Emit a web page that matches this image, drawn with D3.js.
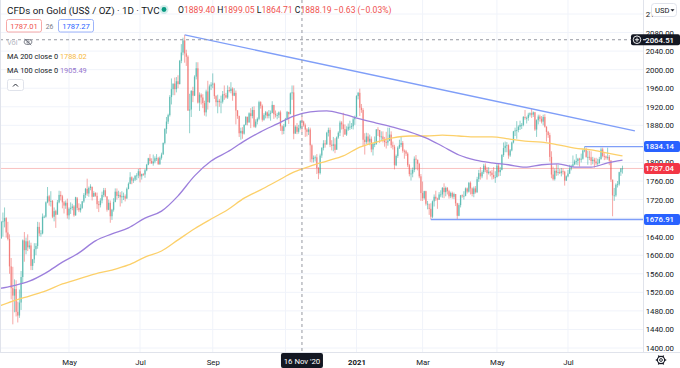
<!DOCTYPE html>
<html><head><meta charset="utf-8">
<script src="https://cdn.jsdelivr.net/npm/d3@7"></script>
<style>
html,body{margin:0;padding:0;background:#fff;}
svg{display:block;font-family:Roboto,"Liberation Sans",Arial,sans-serif;}
</style></head><body>
<svg id="c" width="680" height="368"></svg>
<script>
// ---------------- DATA ----------------
const startDate = "2020-03-02", endDate = "2021-08-17";
const holidays = ["2020-12-25", "2021-01-01"];
const firstOpen = 1585;
const closes = [
1587,1642,1636,1672,1673, 1680,1649,1635,1576,1529, 1513,1527,1478,1470,1498, 1553,1632,1611,1630,1617,
1621,1577,1591,1613,1620, 1661,1647,1647,1683,1683, 1714,1727,1716,1717,1683, 1695,1687,1714,1730,1727,
1714,1707,1713,1686,1700, 1702,1705,1686,1725,1702, 1697,1702,1716,1730,1743, 1733,1745,1748,1726,1734,
1728,1710,1708,1718,1730, 1740,1727,1698,1713,1684, 1698,1715,1737,1728,1730, 1725,1727,1727,1722,1743,
1754,1768,1761,1763,1771, 1772,1781,1770,1775,1774, 1783,1795,1809,1803,1798, 1802,1809,1809,1796,1810,
1817,1842,1872,1888,1902, 1941,1958,1970,1958,1975, 1969,2019,2037,2063,2035, 2028,1912,1914,1954,1944,
1985,2003,1929,1946,1940, 1928,1908,1953,1930,1964, 1968,1970,1943,1930,1933, 1930,1931,1947,1945,1940,
1956,1954,1959,1944,1950, 1912,1900,1863,1868,1862, 1881,1898,1886,1906,1900, 1913,1877,1888,1894,1930,
1922,1892,1902,1908,1900, 1905,1907,1924,1904,1902, 1902,1908,1878,1868,1878, 1894,1909,1904,1949,1951,
1862,1877,1866,1874,1889.40, 1888.19,1880,1871,1866,1871, 1837,1807,1810,1811,1788, 1777,1815,1831,1841,1839,
1864,1870,1838,1836,1839, 1827,1854,1864,1886,1882, 1872,1860,1871,1877, 1877,1878,1893,1898,
1943,1950,1918,1913,1849, 1844,1856,1845,1851,1828, 1840,1840,1871,1870,1855, 1856,1850,1844,1843,1847,
1860,1837,1834,1794,1814, 1832,1838,1842,1825,1824, 1819,1794,1775,1776,1784, 1808,1806,1797,1770,1734,
1723,1738,1711,1711,1700, 1683,1716,1726,1722,1720, 1731,1731,1745,1736,1745, 1738,1727,1734,1726,1732,
1712,1685,1708,1729,1728, 1728,1744,1737,1756,1744, 1732,1744,1736,1764,1777, 1770,1779,1793,1784,1777,
1780,1778,1773,1768,1768, 1793,1779,1784,1816,1831, 1836,1837,1815,1826,1843, 1867,1869,1870,1877,1881,
1881,1898,1896,1896,1903, 1906,1903,1908,1871,1891, 1899,1894,1888,1898,1877, 1866,1859,1812,1774,1764,
1782,1778,1779,1777,1781, 1780,1761,1770,1776,1787, 1792,1796,1802,1803,1808, 1806,1808,1826,1829,1812,
1812,1811,1803,1806,1802, 1798,1799,1807,1828,1814, 1813,1810,1812,1804,1763, 1729,1729,1752,1753,1779,
1787,1787.04];
const highs = [
1610,1649,1652,1674,1692, 1703,1682,1672,1645,1594, 1575,1548,1546,1500,1526, 1566,1634,1650,1638,1645,
1632,1627,1592,1626,1626, 1672,1671,1654,1690,1686, 1716,1747,1730,1738,1719, 1703,1698,1719,1739,1738,
1730,1717,1718,1722,1703, 1714,1711,1708,1726,1722, 1712,1710,1717,1734,1745, 1765,1748,1753,1747,1738,
1736,1735,1717,1723,1737, 1745,1745,1727,1720,1718, 1700,1723,1744,1744,1739, 1736,1738,1735,1731,1746,
1757,1779,1770,1767,1773, 1777,1786,1788,1776,1777, 1786,1797,1810,1818,1809, 1817,1813,1818,1812,1813,
1821,1843,1874,1898,1905, 1945,1981,1970,1983,1984, 1988,2021,2055,2069,2075, 2043,2031,1948,1956,1963,
1988,2016,2016,1951,1949, 1947,1933,1957,1976,1968, 1973,1992,1972,1945,1946, 1937,1944,1954,1966,1950,
1966,1963,1973,1962,1960, 1955,1913,1901,1875,1876, 1882,1900,1899,1908,1917, 1920,1921,1893,1897,1933,
1932,1925,1906,1911,1910, 1913,1912,1932,1924,1912, 1907,1910,1912,1880,1883, 1896,1911,1909,1951,1966,
1966,1880,1885,1881,1891, 1899.05,1890,1884,1874,1876, 1875,1839,1815,1815,1818, 1790,1819,1833,1848,1848,
1866,1875,1875,1848,1855, 1852,1856,1867,1890,1889, 1907,1882,1878,1884, 1890,1885,1897,1901,
1945,1952,1959,1926,1917, 1863,1864,1863,1860,1856, 1842,1856,1872,1876,1870, 1867,1867,1855,1866,1875,
1875,1867,1845,1838,1817, 1835,1849,1855,1846,1828, 1827,1822,1797,1785,1789, 1813,1816,1806,1799,1775,
1759,1739,1739,1717,1702, 1712,1718,1731,1739,1724, 1736,1740,1747,1755,1748, 1747,1741,1737,1737,1735,
1732,1713,1712,1730,1731, 1738,1746,1746,1758,1759, 1746,1748,1749,1769,1784, 1790,1783,1797,1798,1790,
1790,1782,1784,1790,1781, 1798,1798,1790,1818,1843, 1845,1844,1839,1829,1845, 1868,1875,1889,1880,1890,
1885,1900,1913,1899,1907, 1908,1916,1910,1909,1893, 1903,1903,1900,1903,1904, 1878,1868,1864,1824,1791,
1787,1796,1795,1786,1788, 1787,1782,1772,1784,1795, 1795,1815,1806,1818,1810, 1810,1819,1828,1834,1832,
1825,1825,1824,1812,1810, 1810,1808,1812,1832,1832, 1820,1815,1832,1816,1805, 1763,1745,1755,1760,1780,
1788,1793];
const lows = [
1565,1585,1632,1636,1640, 1660,1638,1632,1560,1505, 1451,1477,1468,1455,1465, 1482,1540,1586,1602,1609,
1613,1568,1568,1583,1600, 1614,1641,1640,1645,1680, 1681,1712,1707,1705,1680, 1673,1659,1688,1712,1718,
1701,1690,1700,1679,1677, 1689,1697,1683,1685,1697, 1693,1692,1700,1713,1723, 1728,1726,1740,1718,1726,
1726,1700,1693,1703,1712, 1725,1725,1694,1697,1670, 1676,1694,1714,1720,1723, 1705,1712,1719,1716,1722,
1742,1753,1753,1756,1760, 1762,1766,1757,1763,1771, 1767,1781,1794,1797,1797, 1793,1798,1803,1795,1795,
1806,1817,1839,1862,1883, 1899,1925,1945,1945,1951, 1960,1968,2014,2031,2015, 2008,1911,1863,1898,1930,
1943,1979,1927,1911,1925, 1917,1901,1899,1914,1928, 1956,1960,1937,1921,1906, 1920,1906,1927,1935,1938,
1937,1951,1949,1933,1943, 1882,1894,1855,1849,1851, 1860,1880,1880,1886,1874, 1895,1875,1874,1882,1891,
1916,1888,1890,1895,1895, 1895,1890,1906,1894,1897, 1893,1896,1868,1860,1861, 1876,1891,1883,1904,1935,
1850,1862,1861,1862,1871, 1864.71,1877,1855,1856,1859, 1801,1800,1800,1802,1775, 1764,1774,1810,1826,1832,
1838,1856,1833,1826,1824, 1820,1828,1851,1857,1871, 1855,1860,1857,1868, 1870,1872,1871,1881,
1898,1936,1900,1907,1835, 1817,1840,1838,1837,1822, 1815,1833,1838,1857,1842, 1846,1843,1834,1830,1836,
1846,1831,1828,1785,1792, 1810,1829,1833,1821,1808, 1814,1790,1770,1761,1768, 1779,1785,1783,1766,1717,
1717,1720,1707,1699,1687, 1676.91,1680,1705,1717,1700, 1719,1725,1724,1723,1727, 1731,1722,1723,1722,1721,
1706,1678,1684,1703,1724, 1720,1727,1733,1735,1731, 1727,1725,1733,1734,1758, 1763,1766,1775,1779,1763,
1774,1770,1763,1764,1756, 1768,1770,1771,1783,1812, 1822,1822,1808,1812,1824, 1841,1857,1851,1865,1870,
1872,1878,1892,1884,1890, 1899,1896,1898,1868,1855, 1882,1888,1884,1880,1875, 1845,1853,1802,1766,1761,
1761,1771,1772,1775,1770, 1774,1750,1760,1768,1775, 1783,1789,1794,1795,1794, 1791,1800,1806,1822,1810,
1795,1805,1794,1796,1789, 1794,1792,1797,1806,1811, 1805,1806,1806,1794,1758, 1684,1717,1726,1746,1750,
1771,1776];
// moving averages, one value every 10 bars (last = final bar)
const maStep = 10;
const ma200 = [1488,1501,1512,1523,1538,1549,1560,1568,1579,1596,1609,1633,1657,1678,1698,1723,1741,1760,1779,1792,
1803,1814,1833,1844,1853,1857,1857,1859,1857,1855,1855,1851,1846,1844,1838,1831,1827,1820,1814];
const ma100 = [1527,1534,1544,1562,1585,1605,1631,1646,1659,1680,1695,1728,1771,1803,1823,1846,1866,1883,1900,1909,
1911,1904,1894,1885,1876,1866,1853,1835,1816,1805,1799,1795,1790,1795,1797,1790,1790,1799,1805];
const timeTickDates = ["2020-05-01","2020-07-01","2020-09-01","2020-11-02","2021-01-04","2021-03-01","2021-05-03","2021-07-01"];
const timeTickLabels = ["May","Jul","Sep","Nov","2021","Mar","May","Jul"];
const priceTicks = [1400,1440,1480,1520,1560,1600,1640,1680,1720,1760,1800,1840,1880,1920,1960,2000,2040,2080,2120];
// drawings
const trendFrom = {date: "2020-08-07", price: 2075};
const trendTo = {barsAfterEnd: 7.5, price: 1868};
const levels = [{date: "2021-07-15", price: 1834.14}, {date: "2021-03-08", price: 1676.91}];
const crossDate = "2020-11-16", crossPrice = 2064.51;
const legendOHLC = [["O","1889.40"],["H","1899.05"],["L","1864.71"],["C","1888.19"]];
const legendChange = "\u22120.63 (\u22120.03%)";
const bid = "1787.01", spread = "26", ask = "1787.27";
const ma200Legend = "1788.02", ma100Legend = "1905.49";

// ---------------- LAYOUT ----------------
const paneR = 643, paneB = 352;
const fmt = d3.utcFormat("%Y-%m-%d");
const dates = d3.utcDay.range(new Date(startDate + "T00:00Z"), d3.utcDay.offset(new Date(endDate + "T00:00Z"), 1))
  .filter(d => d.getUTCDay() !== 0 && d.getUTCDay() !== 6).map(fmt).filter(s => !holidays.includes(s));
if (dates.length !== closes.length) console.error("length mismatch", dates.length, closes.length);
const idx = s => dates.indexOf(s);
const n = dates.length;

const x = d3.scaleLinear().domain([0, n - 1]).range([-3.7, 622.5]);
const y = d3.scaleLinear().domain([1400, 2120]).range([348, 14]);
const lastClose = closes[n - 1];
const cx = x(idx(crossDate)), cy = y(crossPrice);

const svg = d3.select("#c");
svg.append("rect").attr("width", 680).attr("height", 368).attr("fill", "#fff");
svg.append("defs").append("clipPath").attr("id", "pane").append("rect")
  .attr("x", 0).attr("y", 0).attr("width", paneR).attr("height", paneB);

const grid = svg.append("g");
grid.selectAll(".hg").data(priceTicks).join("line")
  .attr("x1", 0).attr("x2", paneR).attr("y1", d => y(d)).attr("y2", d => y(d))
  .attr("stroke", "#f0f3fa").attr("stroke-width", 1);
grid.selectAll(".vg").data(timeTickDates).join("line")
  .attr("x1", d => x(idx(d))).attr("x2", d => x(idx(d))).attr("y1", 0).attr("y2", paneB)
  .attr("stroke", "#f0f3fa").attr("stroke-width", 1);

const pane = svg.append("g").attr("clip-path", "url(#pane)");
// last price line
pane.append("line").attr("x1", 0).attr("x2", paneR).attr("y1", y(lastClose)).attr("y2", y(lastClose))
  .attr("stroke", "#f7a9a7").attr("stroke-width", 1).attr("opacity", 0.7);

// candles
const bars = dates.map((d, i) => ({i, o: i ? closes[i - 1] : firstOpen, h: highs[i], l: lows[i], c: closes[i]}));
const up = "rgba(38,166,154,0.5)", dn = "rgba(239,83,80,0.5)";
const cg = pane.append("g");
cg.selectAll(".w").data(bars).join("line")
  .attr("x1", d => x(d.i)).attr("x2", d => x(d.i)).attr("y1", d => y(d.h)).attr("y2", d => y(d.l))
  .attr("stroke", d => d.c >= d.o ? up : dn).attr("stroke-width", 1);
cg.selectAll(".b").data(bars).join("rect")
  .attr("x", d => x(d.i) - 0.7).attr("width", 1.4)
  .attr("y", d => y(Math.max(d.o, d.c))).attr("height", d => Math.max(0.8, Math.abs(y(d.o) - y(d.c))))
  .attr("fill", d => d.c >= d.o ? up : dn);

// moving averages
const maLine = d3.line().x(d => x(d.i)).y(d => y(d.v)).curve(d3.curveMonotoneX);
const maPts = arr => arr.map((v, k) => ({i: Math.min(k * maStep, n - 1), v}));
pane.append("path").attr("d", maLine(maPts(ma200))).attr("fill", "none").attr("stroke", "#fcd06a").attr("stroke-width", 1.3);
pane.append("path").attr("d", maLine(maPts(ma100))).attr("fill", "none").attr("stroke", "#9c7fdc").attr("stroke-width", 1.3);

// drawings
const blue = "#7f9ef8";
pane.append("line")
  .attr("x1", x(idx(trendFrom.date))).attr("y1", y(trendFrom.price))
  .attr("x2", x(n - 1 + trendTo.barsAfterEnd)).attr("y2", y(trendTo.price))
  .attr("stroke", blue).attr("stroke-width", 1.4);
pane.selectAll(".lv").data(levels).join("line")
  .attr("x1", d => x(idx(d.date))).attr("x2", paneR).attr("y1", d => y(d.price)).attr("y2", d => y(d.price))
  .attr("stroke", blue).attr("stroke-width", 1.4);

// crosshair
svg.append("line").attr("x1", cx).attr("x2", cx).attr("y1", 0).attr("y2", paneB)
  .attr("stroke", "#9598a1").attr("stroke-dasharray", "3,3").attr("stroke-width", 1);
svg.append("line").attr("x1", 0).attr("x2", paneR).attr("y1", cy).attr("y2", cy)
  .attr("stroke", "#9598a1").attr("stroke-dasharray", "3,3").attr("stroke-width", 1);

// borders
svg.append("line").attr("x1", paneR + 0.5).attr("x2", paneR + 0.5).attr("y1", 0).attr("y2", paneB).attr("stroke", "#e0e3eb");
svg.append("line").attr("x1", 0).attr("x2", 680).attr("y1", paneB + 0.5).attr("y2", paneB + 0.5).attr("stroke", "#e0e3eb");
svg.append("line").attr("x1", 0.5).attr("x2", 0.5).attr("y1", 0).attr("y2", paneB).attr("stroke", "#e0e3eb");

// price axis (labels hidden where a marker label sits on top, as the platform does)
const boxPrices = [levels[0].price, lastClose, levels[1].price];
const yAxis = d3.axisRight(y).tickValues(priceTicks).tickFormat(d3.format(".2f")).tickSize(0).tickPadding(0);
const ya = svg.append("g").attr("transform", `translate(${paneR},0)`).call(yAxis);
ya.select(".domain").remove();
ya.selectAll(".tick").filter(d => boxPrices.some(p => Math.abs(y(p) - y(d)) < 4)).remove();
ya.selectAll("text").attr("x", 31).attr("text-anchor", "end").attr("fill", "#131722")
  .style("font-size", "7.8px").style("font-family", "Roboto, 'Liberation Sans', sans-serif");

// time axis (label under the crosshair date label is hidden)
const xAxis = d3.axisBottom(x).tickValues(timeTickDates.map(idx)).tickFormat((d, i) => timeTickLabels[i]).tickSize(0).tickPadding(0);
const xa = svg.append("g").attr("transform", `translate(0,${paneB})`).call(xAxis);
xa.select(".domain").remove();
xa.selectAll("text").attr("y", 7).attr("fill", "#131722")
  .style("font-size", "7.8px").style("font-family", "Roboto, 'Liberation Sans', sans-serif")
  .style("font-weight", (d, i) => /^\d{4}$/.test(timeTickLabels[i]) ? 700 : 400);
xa.selectAll(".tick").filter(d => Math.abs(x(d) - cx) < 30).remove();

// axis label boxes
function priceBox(p, fill, txt) {
  const g = svg.append("g");
  g.append("rect").attr("x", paneR + 1).attr("y", y(p) - 5.5).attr("width", 36).attr("height", 11).attr("rx", 2).attr("fill", fill);
  g.append("text").attr("x", 674).attr("y", y(p) + 2.8).attr("text-anchor", "end").attr("fill", "#fff")
    .style("font-size", "7.8px").style("font-weight", 500).text(txt);
}
priceBox(levels[0].price, "#2962ff", levels[0].price.toFixed(2));
priceBox(lastClose, "#f23645", lastClose.toFixed(2));
priceBox(levels[1].price, "#2962ff", levels[1].price.toFixed(2));
// crosshair price label with plus button
const cg2 = svg.append("g");
cg2.append("rect").attr("x", 631).attr("y", cy - 5.5).attr("width", 49).attr("height", 11).attr("rx", 2).attr("fill", "#131722");
cg2.append("circle").attr("cx", 637).attr("cy", cy).attr("r", 3.8).attr("fill", "none").attr("stroke", "#fff").attr("stroke-width", 0.9);
cg2.append("path").attr("d", `M634.9,${cy}h4.2M637,${cy - 2.1}v4.2`).attr("stroke", "#fff").attr("stroke-width", 0.9);
cg2.append("line").attr("x1", 643).attr("x2", 646).attr("y1", cy).attr("y2", cy).attr("stroke", "#fff");
cg2.append("text").attr("x", 674).attr("y", cy + 2.8).attr("text-anchor", "end").attr("fill", "#fff")
  .style("font-size", "7.8px").style("font-weight", 500).text(crossPrice.toFixed(2));
// crosshair time label
const tg = svg.append("g");
tg.append("rect").attr("x", cx - 21).attr("y", paneB + 1).attr("width", 42).attr("height", 15).attr("rx", 2).attr("fill", "#131722");
tg.append("text").attr("x", cx).attr("y", paneB + 11.5).attr("text-anchor", "middle").attr("fill", "#fff")
  .style("font-size", "7.8px").text(d3.utcFormat("%-d %b '%y")(new Date(crossDate + "T00:00Z")));

// USD button
const ub = svg.append("g");
ub.append("rect").attr("x", 651.5).attr("y", 3.5).attr("width", 25).attr("height", 13).attr("rx", 3).attr("fill", "#fff").attr("stroke", "#e0e3eb");
ub.append("text").attr("x", 655).attr("y", 12.8).attr("fill", "#131722").style("font-size", "7.6px").text("USD");
ub.append("path").attr("d", "M670.5,9.2l2,2.2l2,-2.2z").attr("fill", "#131722");

// gear icon
const gear = svg.append("g").attr("transform", "translate(661,360)");
gear.append("circle").attr("r", 3.6).attr("fill", "none").attr("stroke", "#131722").attr("stroke-width", 1.1);
gear.append("circle").attr("r", 1.4).attr("fill", "none").attr("stroke", "#131722").attr("stroke-width", 0.9);
gear.selectAll("line").data(d3.range(0, 360, 60)).join("line")
  .attr("x1", d => 3.6 * Math.cos(d * Math.PI / 180)).attr("y1", d => 3.6 * Math.sin(d * Math.PI / 180))
  .attr("x2", d => 5.2 * Math.cos(d * Math.PI / 180)).attr("y2", d => 5.2 * Math.sin(d * Math.PI / 180))
  .attr("stroke", "#131722").attr("stroke-width", 1.4);

// ---------------- LEGEND ----------------
const lg = svg.append("g");
lg.append("text").attr("x", 7).attr("y", 13.5).attr("fill", "#131722").style("font-size", "9.8px")
  .text("CFDs on Gold (US$ / OZ) \u00B7 1D \u00B7 TVC");
lg.append("circle").attr("cx", 164).attr("cy", 9.5).attr("r", 4.5).attr("fill", "rgba(38,166,154,0.2)");
lg.append("circle").attr("cx", 164).attr("cy", 9.5).attr("r", 2.4).attr("fill", "#089981");
const ohlc = lg.append("text").attr("x", 178).attr("y", 13).style("font-size", "8.6px");
legendOHLC.forEach(([k, v], i) => {
  ohlc.append("tspan").attr("fill", "#131722").text((i ? " " : "") + k);
  ohlc.append("tspan").attr("fill", "#ef5350").text(v);
});
ohlc.append("tspan").attr("fill", "#ef5350").text(" " + legendChange);

function quoteBox(x0, w, stroke, color, txt) {
  lg.append("rect").attr("x", x0 + 0.5).attr("y", 19.5).attr("width", w).attr("height", 12.5).attr("rx", 2)
    .attr("fill", "#fff").attr("stroke", stroke);
  lg.append("text").attr("x", x0 + w / 2 + 0.5).attr("y", 28.6).attr("text-anchor", "middle").attr("fill", color)
    .style("font-size", "7.6px").text(txt);
}
quoteBox(6, 35, "#f7a9a7", "#ef5350", bid);
lg.append("text").attr("x", 49.5).attr("y", 28.6).attr("text-anchor", "middle").attr("fill", "#787b86").style("font-size", "6.8px").text(spread);
quoteBox(58, 35, "#9db4fb", "#2962ff", ask);

lg.append("text").attr("x", 7).attr("y", 44.6).attr("fill", "#b2b5be").style("font-size", "7.4px").text("Vol");
const eye = lg.append("g").attr("transform", "translate(28,42)").attr("fill", "none").attr("stroke", "#6a6d78").attr("stroke-width", 0.8);
eye.append("ellipse").attr("rx", 4).attr("ry", 2.6);
eye.append("circle").attr("r", 1.2);
eye.append("line").attr("x1", -3.2).attr("y1", -3.2).attr("x2", 3.2).attr("y2", 3.2);

const m2 = lg.append("text").attr("x", 7).attr("y", 58.6).style("font-size", "7.4px");
m2.append("tspan").attr("fill", "#131722").text("MA 200 close 0 ");
m2.append("tspan").attr("fill", "#f7b93e").text(ma200Legend);
const m1 = lg.append("text").attr("x", 7).attr("y", 72.6).style("font-size", "7.4px");
m1.append("tspan").attr("fill", "#131722").text("MA 100 close 0 ");
m1.append("tspan").attr("fill", "#9575cd").text(ma100Legend);

lg.append("rect").attr("x", 7.5).attr("y", 79.5).attr("width", 16).attr("height", 11).attr("rx", 2).attr("fill", "#fff").attr("stroke", "#e0e3eb");
lg.append("path").attr("d", "M13,86.5l2.5,-2.5l2.5,2.5").attr("fill", "none").attr("stroke", "#131722").attr("stroke-width", 0.9);
</script>
</body></html>
